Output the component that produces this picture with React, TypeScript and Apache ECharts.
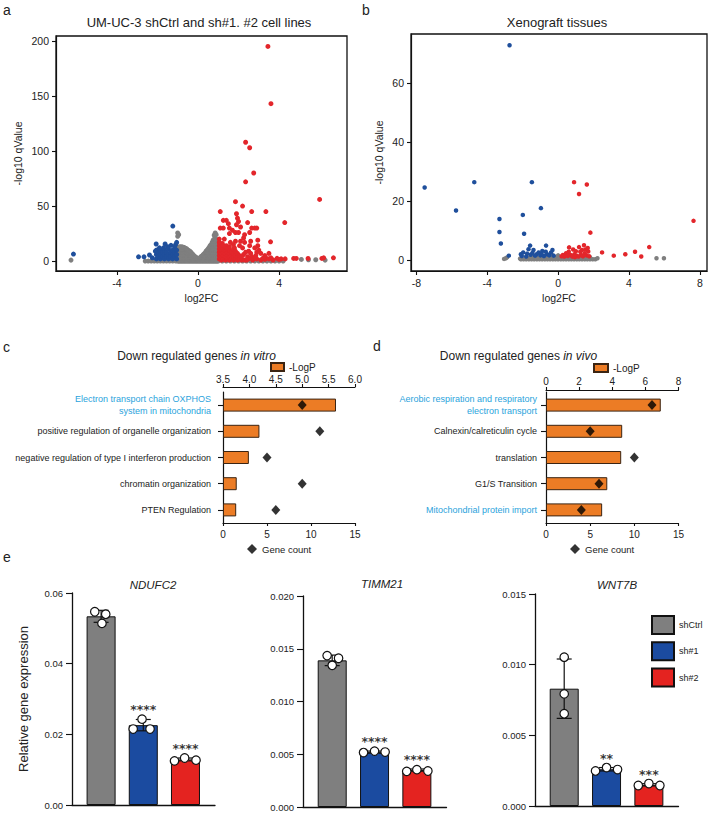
import React, { useEffect, useRef } from "react";
import * as echarts from "echarts";

const FONT = "'Liberation Sans', Arial, Helvetica, sans-serif";
const TXT = "#222";
const RED = "#e3262b";
const BLUE = "#1f4f9c";
const GRAY = "#7f7f7f";
const ORANGE = "#ec7c25";
const HL = "#2ba3dc";

// ---------- Panel a: UM-UC-3 volcano (log2FC, -log10 qValue) ----------
const aRed: number[][] = [
  [3.45, 195], [3.6, 143], [2.35, 108], [2.55, 103], [2.75, 80], [2.35, 72], [6.0, 56], [1.85, 54],
  [2.2, 50], [3.35, 45], [1.1, 45], [2.65, 45], [1.9, 43], [4.28, 35], [1.95, 39], [2.0, 36],
  [1.25, 37], [1.4, 37], [1.5, 34], [1.9, 33], [2.45, 35], [2.1, 31], [2.8, 30], [2.65, 30],
  [1.1, 30], [1.25, 30], [1.55, 30], [2.9, 30], [1.7, 28], [1.85, 26], [2.0, 26], [2.55, 26],
  [1.55, 25], [2.3, 24], [1.05, 20], [1.3, 20], [1.6, 17], [2.1, 18], [2.3, 17], [2.6, 18],
  [3.58, 17.5], [2.95, 19], [2.25, 21], [1.2, 16], [1.85, 18], [2.95, 14], [2.55, 14], [2.05, 14],
  [1.4, 14], [1.8, 12], [2.2, 12], [2.8, 12], [3.5, 7], [3.0, 10], [2.5, 9], [2.9, 8], [3.1, 7],
  [2.35, 8], [2.6, 7], [3.3, 5], [2.85, 5], [3.35, 3], [2.25, 6], [2.45, 4], [2.65, 4],
  [1.05, 2], [1.05, 5], [1.05, 8], [1.05, 11], [1.05, 14], [1.05, 17],
  [1.15, 1], [1.15, 4], [1.15, 7], [1.15, 10], [1.15, 13],
  [1.25, 2], [1.25, 5], [1.25, 8], [1.25, 11], [1.25, 14],
  [1.35, 1], [1.35, 4], [1.35, 7], [1.35, 10], [1.35, 13],
  [1.45, 2], [1.45, 5], [1.45, 8], [1.45, 11],
  [1.55, 1], [1.55, 4], [1.55, 7], [1.55, 10], [1.55, 13],
  [1.65, 2], [1.65, 5], [1.65, 8],
  [1.75, 1], [1.75, 4], [1.75, 7], [1.75, 11], [1.75, 15],
  [1.85, 2], [1.85, 5], [1.85, 9], [1.95, 1], [1.95, 4], [1.95, 7],
  [2.05, 2], [2.05, 5], [2.15, 1], [2.15, 4],
  [2.3, 1], [2.5, 2], [2.7, 1], [2.9, 2], [3.1, 1], [3.3, 1.5], [3.5, 2], [3.7, 1], [3.9, 2.5],
  [4.1, 2], [4.3, 2], [4.72, 2.4], [4.85, 2.4], [5.43, 2.4], [6.11, 2.4], [6.2, 3], [6.68, 3],
  [2.4, 1], [2.8, 3], [3.2, 2.5], [3.6, 3], [4.0, 1.5],
];
const aBlue: number[][] = [
  [-6.14, 6.4], [-2.93, 3.9], [-2.66, 3.9], [-2.39, 5.5], [-2.25, 3], [-2.06, 15.5], [-1.62, 15.5],
  [-1.33, 14.3], [-1.24, 31.8], [-1.05, 17], [-1.1, 15],
  [-2.05, 2], [-2.05, 6], [-2.05, 10], [-1.95, 4], [-1.95, 8], [-1.85, 2], [-1.85, 6], [-1.85, 10],
  [-1.75, 4], [-1.75, 8], [-1.65, 2], [-1.65, 6], [-1.65, 10], [-1.55, 4], [-1.55, 8],
  [-1.45, 2], [-1.45, 6], [-1.45, 11], [-1.35, 4], [-1.35, 8], [-1.25, 2], [-1.25, 6], [-1.25, 10],
  [-1.15, 4], [-1.15, 8], [-1.15, 13], [-1.05, 2], [-1.05, 6], [-1.05, 10],
  [-2.1, 9], [-1.9, 12], [-1.5, 13], [-1.7, 12],
];
// gray (non-significant) genes, listed as [log2FC, [qValues...]]
const aGrayCols: [number, number[]][] = [
  [-6.26, [0.9]], [-2.6, [0]], [-2.45, [0]], [-2.3, [0]], [-2.15, [0]], [-2.0, [0]], [-1.85, [0]],
  [-1.7, [0]], [-1.55, [0]], [-1.4, [0]], [-1.25, [0]], [-1.1, [0, 2]],
  [-1.0, [0, 2.5, 5, 7.5, 10, 12, 22.5, 25.5]],
  [-0.95, [0, 2.5, 5, 7.5, 10, 12.5, 24]],
  [-0.9, [0, 2.5, 5, 7.5, 10, 13]],
  [-0.85, [0, 2.5, 5, 7.5, 10, 12.5]],
  [-0.8, [0, 2.5, 5, 7.5, 10, 13]],
  [-0.75, [0, 2.5, 5, 7.5, 10, 12.5]],
  [-0.7, [0, 2.5, 5, 7.5, 10, 12.5]],
  [-0.65, [0, 2.5, 5, 7.5, 10, 12]],
  [-0.6, [0, 2.5, 5, 7.5, 10, 11.5]],
  [-0.55, [0, 2.5, 5, 7.5, 10, 11]],
  [-0.5, [0, 2.5, 5, 7.5, 10]],
  [-0.45, [0, 2.5, 5, 7.5, 9.5]],
  [-0.4, [0, 2.5, 5, 7.5, 9]],
  [-0.35, [0, 2.5, 5, 8]],
  [-0.3, [0, 2.5, 5, 7]],
  [-0.25, [0, 2.5, 5, 6]],
  [-0.2, [0, 2.5, 5]],
  [-0.15, [0, 2.5, 4]],
  [-0.1, [0, 2.5, 3.5]],
  [-0.05, [0, 2.5]],
  [0.0, [0, 2]],
  [0.05, [0, 2.5]],
  [0.1, [0, 2.5, 3]],
  [0.15, [0, 2.5, 4]],
  [0.2, [0, 2.5, 4.5]],
  [0.25, [0, 2.5, 5, 5.5]],
  [0.3, [0, 2.5, 5, 6.5]],
  [0.35, [0, 2.5, 5, 7.5]],
  [0.4, [0, 2.5, 5, 7.5, 9]],
  [0.45, [0, 2.5, 5, 7.5, 10]],
  [0.5, [0, 2.5, 5, 7.5, 10, 11]],
  [0.55, [0, 2.5, 5, 7.5, 10, 12.5]],
  [0.6, [0, 2.5, 5, 7.5, 10, 12.5, 14]],
  [0.65, [0, 2.5, 5, 7.5, 10, 12.5, 15]],
  [0.7, [0, 2.5, 5, 7.5, 10, 12.5, 15, 17]],
  [0.75, [0, 2.5, 5, 7.5, 10, 12.5, 15, 17.5, 19]],
  [0.8, [0, 2.5, 5, 7.5, 10, 12.5, 15, 17.5, 20, 23.5]],
  [0.85, [0, 2.5, 5, 7.5, 10, 12.5, 15, 17.5, 20, 25.5]],
  [0.9, [0, 2.5, 5, 7.5, 10, 12.5, 15, 17.5, 20, 24]],
  [0.95, [0, 2.5, 5, 7.5, 10, 12.5, 15]],
  [1.0, [0, 2.5, 5]],
  [1.2, [0]], [1.4, [0]], [1.6, [0]], [1.8, [0]], [2.0, [0]], [2.2, [0]], [2.4, [0]], [2.6, [0]],
  [2.8, [0]], [3.0, [0]], [3.2, [0]], [3.4, [0]], [3.6, [0]], [3.8, [0]], [4.0, [0]], [4.2, [0]],
  [5.1, [1.5]], [5.45, [1.2]], [5.81, [1.2]], [6.27, [0.9]],
];

// ---------- Panel b: Xenograft volcano ----------
const bRed: number[][] = [
  [0.9, 26.4], [1.62, 25.6], [1.18, 22.4], [7.64, 13.3], [1.82, 9.3], [0.62, 4.3], [1.46, 5.0],
  [1.18, 4.4], [0.85, 3.6], [1.67, 4.1], [2.48, 2.6], [3.14, 1.5], [3.79, 2.0], [4.34, 2.8],
  [4.69, 1.2], [5.14, 4.4], [1.7, 2.9], [0.27, 1.7], [0.45, 2.3], [0.7, 1.7], [0.92, 2.0],
  [1.3, 1.7], [1.5, 2.3], [0.35, 1.2], [0.55, 1.4], [0.8, 1.2], [1.05, 1.5], [1.25, 2.8],
  [1.4, 1.3], [1.6, 1.6], [1.75, 1.3], [0.6, 2.8], [1.0, 3.0], [1.35, 3.4], [1.55, 3.6],
  [0.2, 1.3], [0.95, 1.0], [1.15, 1.2],
];
const bBlue: number[][] = [
  [-2.74, 72.8], [-7.53, 24.6], [-4.73, 26.4], [-1.48, 26.4], [-5.76, 16.8], [-0.97, 17.6],
  [-1.99, 15.3], [-3.31, 13.9], [-3.31, 9.5], [-1.92, 8.9], [-3.23, 5.6], [-2.78, 1.5],
  [-2.1, 2.0], [-1.97, 2.6], [-1.58, 4.9], [-1.67, 3.7], [-1.39, 3.4], [-0.68, 4.9], [-1.21, 2.0],
  [-0.89, 3.1], [-0.32, 3.4], [-1.0, 1.6], [-0.62, 2.0], [-1.3, 1.5], [-1.8, 1.2], [-1.55, 1.8],
  [-1.1, 2.6], [-0.8, 1.4], [-0.5, 1.6], [-0.4, 2.6], [-0.25, 1.5], [-1.45, 2.4], [-0.95, 2.2],
  [-0.7, 2.8], [-1.75, 2.2], [-2.05, 1.4],
];
const bGrayLowQ = 0.3;
const bGrayLowX = [-2.1, -1.95, -1.8, -1.65, -1.5, -1.35, -1.2, -1.05, -0.9, -0.75, -0.6, -0.45, -0.3,
  -0.15, 0, 0.15, 0.3, 0.45, 0.6, 0.75, 0.9, 1.05, 1.2, 1.35, 1.5, 1.65, 1.8, 1.95, 2.1];
const bGrayMidQ = 1.0;
const bGrayMidX = [-1.6, -1.4, -1.2, -1.0, -0.8, -0.6, -0.4, -0.2, 0, 0.2, 0.4, 0.6, 0.8, 1.0, 1.2,
  1.4, 1.6, 1.8];
const bGrayHighQ = 1.6;
const bGrayHighX = [-0.9, -0.6, -0.3, 0, 0.3, 0.6, 0.9];
const bGrayExtra: number[][] = [[-3.05, 0.4], [-2.95, 0.6], [-2.88, 0.9], [2.22, 0.6], [5.55, 0.6],
  [5.97, 0.6], [-2.15, 0.5]];

// ---------- Panel c: Down regulated genes in vitro ----------
const cTerms = [
  "Electron transport chain OXPHOS\nsystem in mitochondria",
  "positive regulation of organelle organization",
  "negative regulation of type I interferon production",
  "chromatin organization",
  "PTEN Regulation",
];
const cLogP = [5.64, 4.19, 3.99, 3.76, 3.75];
const cGeneCount = [9, 11, 5, 9, 6];
const cHighlight = [true, false, false, false, false];

// ---------- Panel d: Down regulated genes in vivo ----------
const dTerms = [
  "Aerobic respiration and respiratory\nelectron transport",
  "Calnexin/calreticulin cycle",
  "translation",
  "G1/S Transition",
  "Mitochondrial protein import",
];
const dLogP = [6.93, 4.6, 4.54, 3.7, 3.39];
const dGeneCount = [12, 5, 10, 6, 4];
const dHighlight = [true, false, false, false, true];

// ---------- Panel e: qPCR ----------
const eGroups = ["shCtrl", "sh#1", "sh#2"];
const eColors = [GRAY, "#1b4ba0", "#e42320"];
const eGenes = ["NDUFC2", "TIMM21", "WNT7B"];
const ndufc2Mean = [0.0534, 0.0226, 0.0129];
const ndufc2Sd = [0.0017, 0.0016, 0.0004];
const ndufc2Pts = [
  [[-0.15, 0.0547], [0.11, 0.054], [0.02, 0.0514]],
  [[-0.24, 0.0215], [-0.03, 0.0243], [0.16, 0.0215]],
  [[-0.26, 0.0125], [-0.02, 0.0133], [0.25, 0.0127]],
];
const ndufc2Stars = ["", "****", "****"];
const timm21Mean = [0.0139, 0.0052, 0.0035];
const timm21Sd = [0.0005, 0.0001, 0.0001];
const timm21Pts = [
  [[-0.12, 0.01435], [0.15, 0.0141], [0.0, 0.01343]],
  [[-0.26, 0.00516], [0.0, 0.0053], [0.25, 0.00521]],
  [[-0.24, 0.00338], [0.0, 0.00354], [0.26, 0.00341]],
];
const timm21Stars = ["", "****", "****"];
const wnt7bMean = [0.0083, 0.0026, 0.0015];
const wnt7bSd = [0.0021, 0.00012, 0.00008];
const wnt7bPts = [
  [[0.0, 0.01053], [0.0, 0.00793], [0.0, 0.00653]],
  [[-0.26, 0.00248], [0.0, 0.00272], [0.26, 0.00258]],
  [[-0.25, 0.00145], [0.0, 0.00159], [0.26, 0.00145]],
];
const wnt7bStars = ["", "**", "***"];
const eYMax = [0.06, 0.02, 0.015];
const eYInterval = [0.02, 0.005, 0.005];
const eYDecimals = [2, 3, 3];

function buildOption(): any {
  const axisLine = { show: true, onZero: false, lineStyle: { color: "#111", width: 1.2 } };
  const tick = (len: number, extra: any = {}) => ({ show: true, length: len, lineStyle: { color: "#111", width: 1.1 }, ...extra });
  const lbl = (size: number, extra: any = {}) => ({ fontSize: size, color: TXT, fontFamily: FONT, ...extra });
  const noSplit = { show: false };

  const grids: any[] = [
    { left: 56, top: 36, width: 291, height: 235, show: true, borderColor: "#111", borderWidth: 1.3 },
    { left: 411, top: 34, width: 296, height: 237, show: true, borderColor: "#111", borderWidth: 1.3 },
    { left: 223, top: 392, width: 132, height: 131 },
    { left: 546, top: 392, width: 132.5, height: 131 },
    { left: 72, top: 593, width: 143, height: 212 },
    { left: 303, top: 596, width: 143.5, height: 211 },
    { left: 535, top: 594, width: 143.5, height: 212 },
  ];

  const xAxes: any[] = [
    {
      type: "value", gridIndex: 0, min: -7, max: 7.35, axisLine, splitLine: noSplit,
      axisTick: tick(4, { customValues: [-4, 0, 4] }),
      axisLabel: lbl(10.5, { customValues: [-4, 0, 4], margin: 6 }),
      name: "log2FC", nameLocation: "middle", nameGap: 21, nameTextStyle: lbl(10.5),
    },
    {
      type: "value", gridIndex: 1, min: -8.3, max: 8.4, axisLine, splitLine: noSplit,
      axisTick: tick(4, { customValues: [-8, -4, 0, 4, 8] }),
      axisLabel: lbl(10.5, { customValues: [-8, -4, 0, 4, 8], margin: 6 }),
      name: "log2FC", nameLocation: "middle", nameGap: 21, nameTextStyle: lbl(10.5),
    },
    {
      type: "value", gridIndex: 2, position: "top", offset: 5, min: 3.5, max: 6, interval: 0.5,
      axisLine, splitLine: noSplit, axisTick: tick(3),
      axisLabel: lbl(10, { margin: 3, formatter: (v: number) => v.toFixed(1) }),
    },
    {
      type: "value", gridIndex: 2, position: "bottom", min: 0, max: 15, interval: 5,
      axisLine, splitLine: noSplit, axisTick: tick(3), axisLabel: lbl(10, { margin: 6 }),
    },
    {
      type: "value", gridIndex: 3, position: "top", offset: 2, min: 0, max: 8, interval: 2,
      axisLine, splitLine: noSplit, axisTick: tick(3), axisLabel: lbl(10, { margin: 4 }),
    },
    {
      type: "value", gridIndex: 3, position: "bottom", min: 0, max: 15, interval: 5,
      axisLine, splitLine: noSplit, axisTick: tick(3), axisLabel: lbl(10, { margin: 6 }),
    },
  ];
  const yAxes: any[] = [
    {
      type: "value", gridIndex: 0, min: -9, max: 204.5, axisLine, splitLine: noSplit,
      axisTick: tick(4, { customValues: [0, 50, 100, 150, 200] }),
      axisLabel: lbl(10.5, { customValues: [0, 50, 100, 150, 200], margin: 7 }),
      name: "-log10 qValue", nameLocation: "middle", nameGap: 33, nameRotate: 90, nameTextStyle: lbl(10.5),
    },
    {
      type: "value", gridIndex: 1, min: -3.7, max: 76.6, axisLine, splitLine: noSplit,
      axisTick: tick(4, { customValues: [0, 20, 40, 60] }),
      axisLabel: lbl(10.5, { customValues: [0, 20, 40, 60], margin: 7 }),
      name: "-log10 qValue", nameLocation: "middle", nameGap: 27, nameRotate: 90, nameTextStyle: lbl(10.5),
    },
    {
      type: "category", gridIndex: 2, data: cTerms, inverse: true, axisLine,
      axisTick: tick(5, { alignWithLabel: true }),
      axisLabel: lbl(9, { margin: 12, lineHeight: 11.5, color: (_v: any, i: number) => (cHighlight[i] ? HL : TXT) }),
    },
    {
      type: "category", gridIndex: 3, data: dTerms, inverse: true, axisLine,
      axisTick: tick(5, { alignWithLabel: true }),
      axisLabel: lbl(9, { margin: 9, lineHeight: 11.5, color: (_v: any, i: number) => (dHighlight[i] ? HL : TXT) }),
    },
  ];

  const series: any[] = [];
  const flatCols = (cols: [number, number[]][]) => cols.flatMap(([x, qs]) => qs.map((q) => [x, q]));
  const scat = (name: string, data: number[][], color: string, xi: number, size: number) => ({
    type: "scatter", name, data, xAxisIndex: xi, yAxisIndex: xi, symbolSize: size,
    itemStyle: { color, opacity: 1 }, silent: true,
  });
  series.push(scat("a-gray", flatCols(aGrayCols), GRAY, 0, 5));
  series.push(scat("a-blue", aBlue, BLUE, 0, 5));
  series.push(scat("a-red", aRed, RED, 0, 5));
  const bGray = [
    ...bGrayLowX.map((x) => [x, bGrayLowQ]),
    ...bGrayMidX.map((x) => [x, bGrayMidQ]),
    ...bGrayHighX.map((x) => [x, bGrayHighQ]),
    ...bGrayExtra,
  ];
  series.push(scat("b-gray", bGray, GRAY, 1, 4.5));
  series.push(scat("b-blue", bBlue, BLUE, 1, 4.5));
  series.push(scat("b-red", bRed, RED, 1, 4.5));

  // panel c bars (start at 3.5 via transparent stacked base)
  const cBase = 3.5;
  series.push({
    type: "bar", name: "base", stack: "c", xAxisIndex: 2, yAxisIndex: 2, barWidth: 13, silent: true,
    data: cLogP.map(() => cBase), itemStyle: { color: "transparent", borderWidth: 0 },
  });
  series.push({
    type: "bar", name: "-LogP", stack: "c", xAxisIndex: 2, yAxisIndex: 2, barWidth: 13,
    data: cLogP.map((v) => v - cBase),
    itemStyle: { color: ORANGE, borderColor: "#3b2412", borderWidth: 1 },
  });
  series.push({
    type: "scatter", name: "Gene count", xAxisIndex: 3, yAxisIndex: 2, symbol: "diamond", symbolSize: [9, 10],
    data: cGeneCount.map((g, i) => [g, i]), itemStyle: { color: "#000" }, z: 5,
  });
  series.push({
    type: "bar", name: "-LogP", xAxisIndex: 4, yAxisIndex: 3, barWidth: 13, data: dLogP,
    itemStyle: { color: ORANGE, borderColor: "#3b2412", borderWidth: 1 },
  });
  series.push({
    type: "scatter", name: "Gene count", xAxisIndex: 5, yAxisIndex: 3, symbol: "diamond", symbolSize: [9, 10],
    data: dGeneCount.map((g, i) => [g, i]), itemStyle: { color: "#000" }, z: 5,
  });

  // panel e
  const eMeans = [ndufc2Mean, timm21Mean, wnt7bMean];
  const eSds = [ndufc2Sd, timm21Sd, wnt7bSd];
  const ePts = [ndufc2Pts, timm21Pts, wnt7bPts];
  const eStars = [ndufc2Stars, timm21Stars, wnt7bStars];
  eGenes.forEach((_g, k) => {
    const xi = 6 + k;
    const yi = 4 + k;
    xAxes.push({
      type: "value", gridIndex: 4 + k, min: -0.69, max: 2.7, axisLine: { ...axisLine, lineStyle: { color: "#111", width: 1.3 } },
      axisTick: { show: false }, axisLabel: { show: false }, splitLine: noSplit,
    });
    yAxes.push({
      type: "value", gridIndex: 4 + k, min: 0, max: eYMax[k], interval: eYInterval[k],
      axisLine: { ...axisLine, lineStyle: { color: "#111", width: 1.3 } }, splitLine: noSplit,
      axisTick: tick(6), axisLabel: lbl(9.5, { margin: 9, formatter: (v: number) => v.toFixed(eYDecimals[k]) }),
      ...(k === 0
        ? { name: "Relative gene expression", nameLocation: "middle", nameGap: 42, nameRotate: 90, nameTextStyle: lbl(13) }
        : {}),
    });
    eGroups.forEach((gr, j) => {
      series.push({
        type: "bar", name: gr, xAxisIndex: xi, yAxisIndex: yi, barWidth: 29, barGap: "-100%",
        data: [[j, eMeans[k][j]]], itemStyle: { color: eColors[j], borderColor: "#111", borderWidth: 1 }, z: 2,
      });
    });
    series.push({
      type: "custom", name: "err", xAxisIndex: xi, yAxisIndex: yi, z: 3, silent: true,
      data: eMeans[k].map((m, j) => [j, m, eSds[k][j]]),
      encode: { x: 0, y: 1 },
      renderItem: (_p: any, api: any) => {
        const x = api.value(0), m = api.value(1), s = api.value(2);
        const top = api.coord([x, m + s]);
        const bot = api.coord([x, m - s]);
        const hw = 7.5;
        const st = { stroke: "#111", lineWidth: 1.2 };
        return {
          type: "group",
          children: [
            { type: "line", shape: { x1: top[0], y1: top[1], x2: bot[0], y2: bot[1] }, style: st },
            { type: "line", shape: { x1: top[0] - hw, y1: top[1], x2: top[0] + hw, y2: top[1] }, style: st },
            { type: "line", shape: { x1: bot[0] - hw, y1: bot[1], x2: bot[0] + hw, y2: bot[1] }, style: st },
          ],
        };
      },
    });
    series.push({
      type: "scatter", name: "pts", xAxisIndex: xi, yAxisIndex: yi, z: 4, silent: true, symbolSize: 8.5,
      data: ePts[k].flatMap((arr, j) => arr.map(([dx, v]) => [j + dx, v])),
      itemStyle: { color: "#fff", borderColor: "#111", borderWidth: 1.2, opacity: 1 },
    });
    const starData: any[] = [];
    eStars[k].forEach((s, j) => {
      if (!s) return;
      const top = Math.max(eMeans[k][j] + eSds[k][j], ...ePts[k][j].map((p) => p[1]));
      starData.push([j, top, s]);
    });
    series.push({
      type: "scatter", name: "stars", xAxisIndex: xi, yAxisIndex: yi, z: 5, silent: true, symbolSize: 0,
      data: starData,
      label: {
        show: true, position: "top", distance: 3, formatter: (p: any) => p.value[2],
        fontSize: 12.5, fontWeight: "bold", fontFamily: "'DejaVu Sans', sans-serif", color: "#000",
      },
    });
  });

  const txt = (text: string, x: number, y: number, size: number, extra: any = {}) => ({
    type: "text", x, y, silent: true,
    style: { text, fontSize: size, fontFamily: FONT, fill: TXT, align: "left", verticalAlign: "middle", ...extra },
  });
  const rich = {
    n: { fontSize: 12, fontFamily: FONT, color: TXT },
    i: { fontSize: 12, fontFamily: FONT, color: TXT, fontStyle: "italic" },
  };

  const graphic: any[] = [
    txt("a", 3, 10, 14),
    txt("b", 362, 10, 14),
    txt("c", 3, 347, 14),
    txt("d", 373, 346, 14),
    txt("e", 3, 557, 14),
    txt("UM-UC-3 shCtrl and sh#1. #2 cell lines", 199, 22, 13, { align: "center" }),
    txt("Xenograft tissues", 557, 22, 13, { align: "center" }),
    txt("{n|Down regulated genes }{i|in vitro}", 196.5, 356, 12, { align: "center", rich }),
    txt("{n|Down regulated genes }{i|in vivo}", 518.5, 356, 12, { align: "center", rich }),
    txt(eGenes[0], 153, 585, 11.5, { align: "center", fontStyle: "italic" }),
    txt(eGenes[1], 382, 584, 11.5, { align: "center", fontStyle: "italic" }),
    txt(eGenes[2], 617, 585, 11.5, { align: "center", fontStyle: "italic" }),
  ];

  const legTxt = (size: number) => ({ fontSize: size, color: TXT, fontFamily: FONT });
  const legend: any[] = [
    { data: ["-LogP"], left: 270, top: 362, padding: 0, itemWidth: 13, itemHeight: 8, icon: "rect", selectedMode: false, textStyle: legTxt(10) },
    { data: ["-LogP"], left: 593, top: 363, padding: 0, itemWidth: 14, itemHeight: 8, icon: "rect", selectedMode: false, textStyle: legTxt(10) },
    { data: ["Gene count"], left: 247, top: 544, padding: 0, itemWidth: 10, itemHeight: 10, selectedMode: false, textStyle: legTxt(9.5, ), symbolKeepAspect: true },
    { data: ["Gene count"], left: 570, top: 544, padding: 0, itemWidth: 10, itemHeight: 10, selectedMode: false, textStyle: legTxt(9.5), symbolKeepAspect: true },
    {
      data: eGroups, orient: "vertical", left: 651, top: 615, padding: 0, itemWidth: 22, itemHeight: 18, itemGap: 6.3,
      icon: "rect", selectedMode: false, textStyle: legTxt(9),
    },
  ];

  return {
    animation: false,
    backgroundColor: "#fff",
    textStyle: { fontFamily: FONT },
    grid: grids,
    xAxis: xAxes,
    yAxis: yAxes,
    legend,
    graphic,
    series,
  };
}

export default function App() {
  const ref = useRef<HTMLDivElement>(null);
  useEffect(() => {
    if (!ref.current) return;
    const chart = echarts.init(ref.current, null, { renderer: "svg" });
    chart.setOption(buildOption());
    return () => chart.dispose();
  }, []);
  return (
    <div
      ref={ref}
      style={{ position: "absolute", left: 0, top: 0, width: 709, height: 814, background: "#fff" }}
    />
  );
}
